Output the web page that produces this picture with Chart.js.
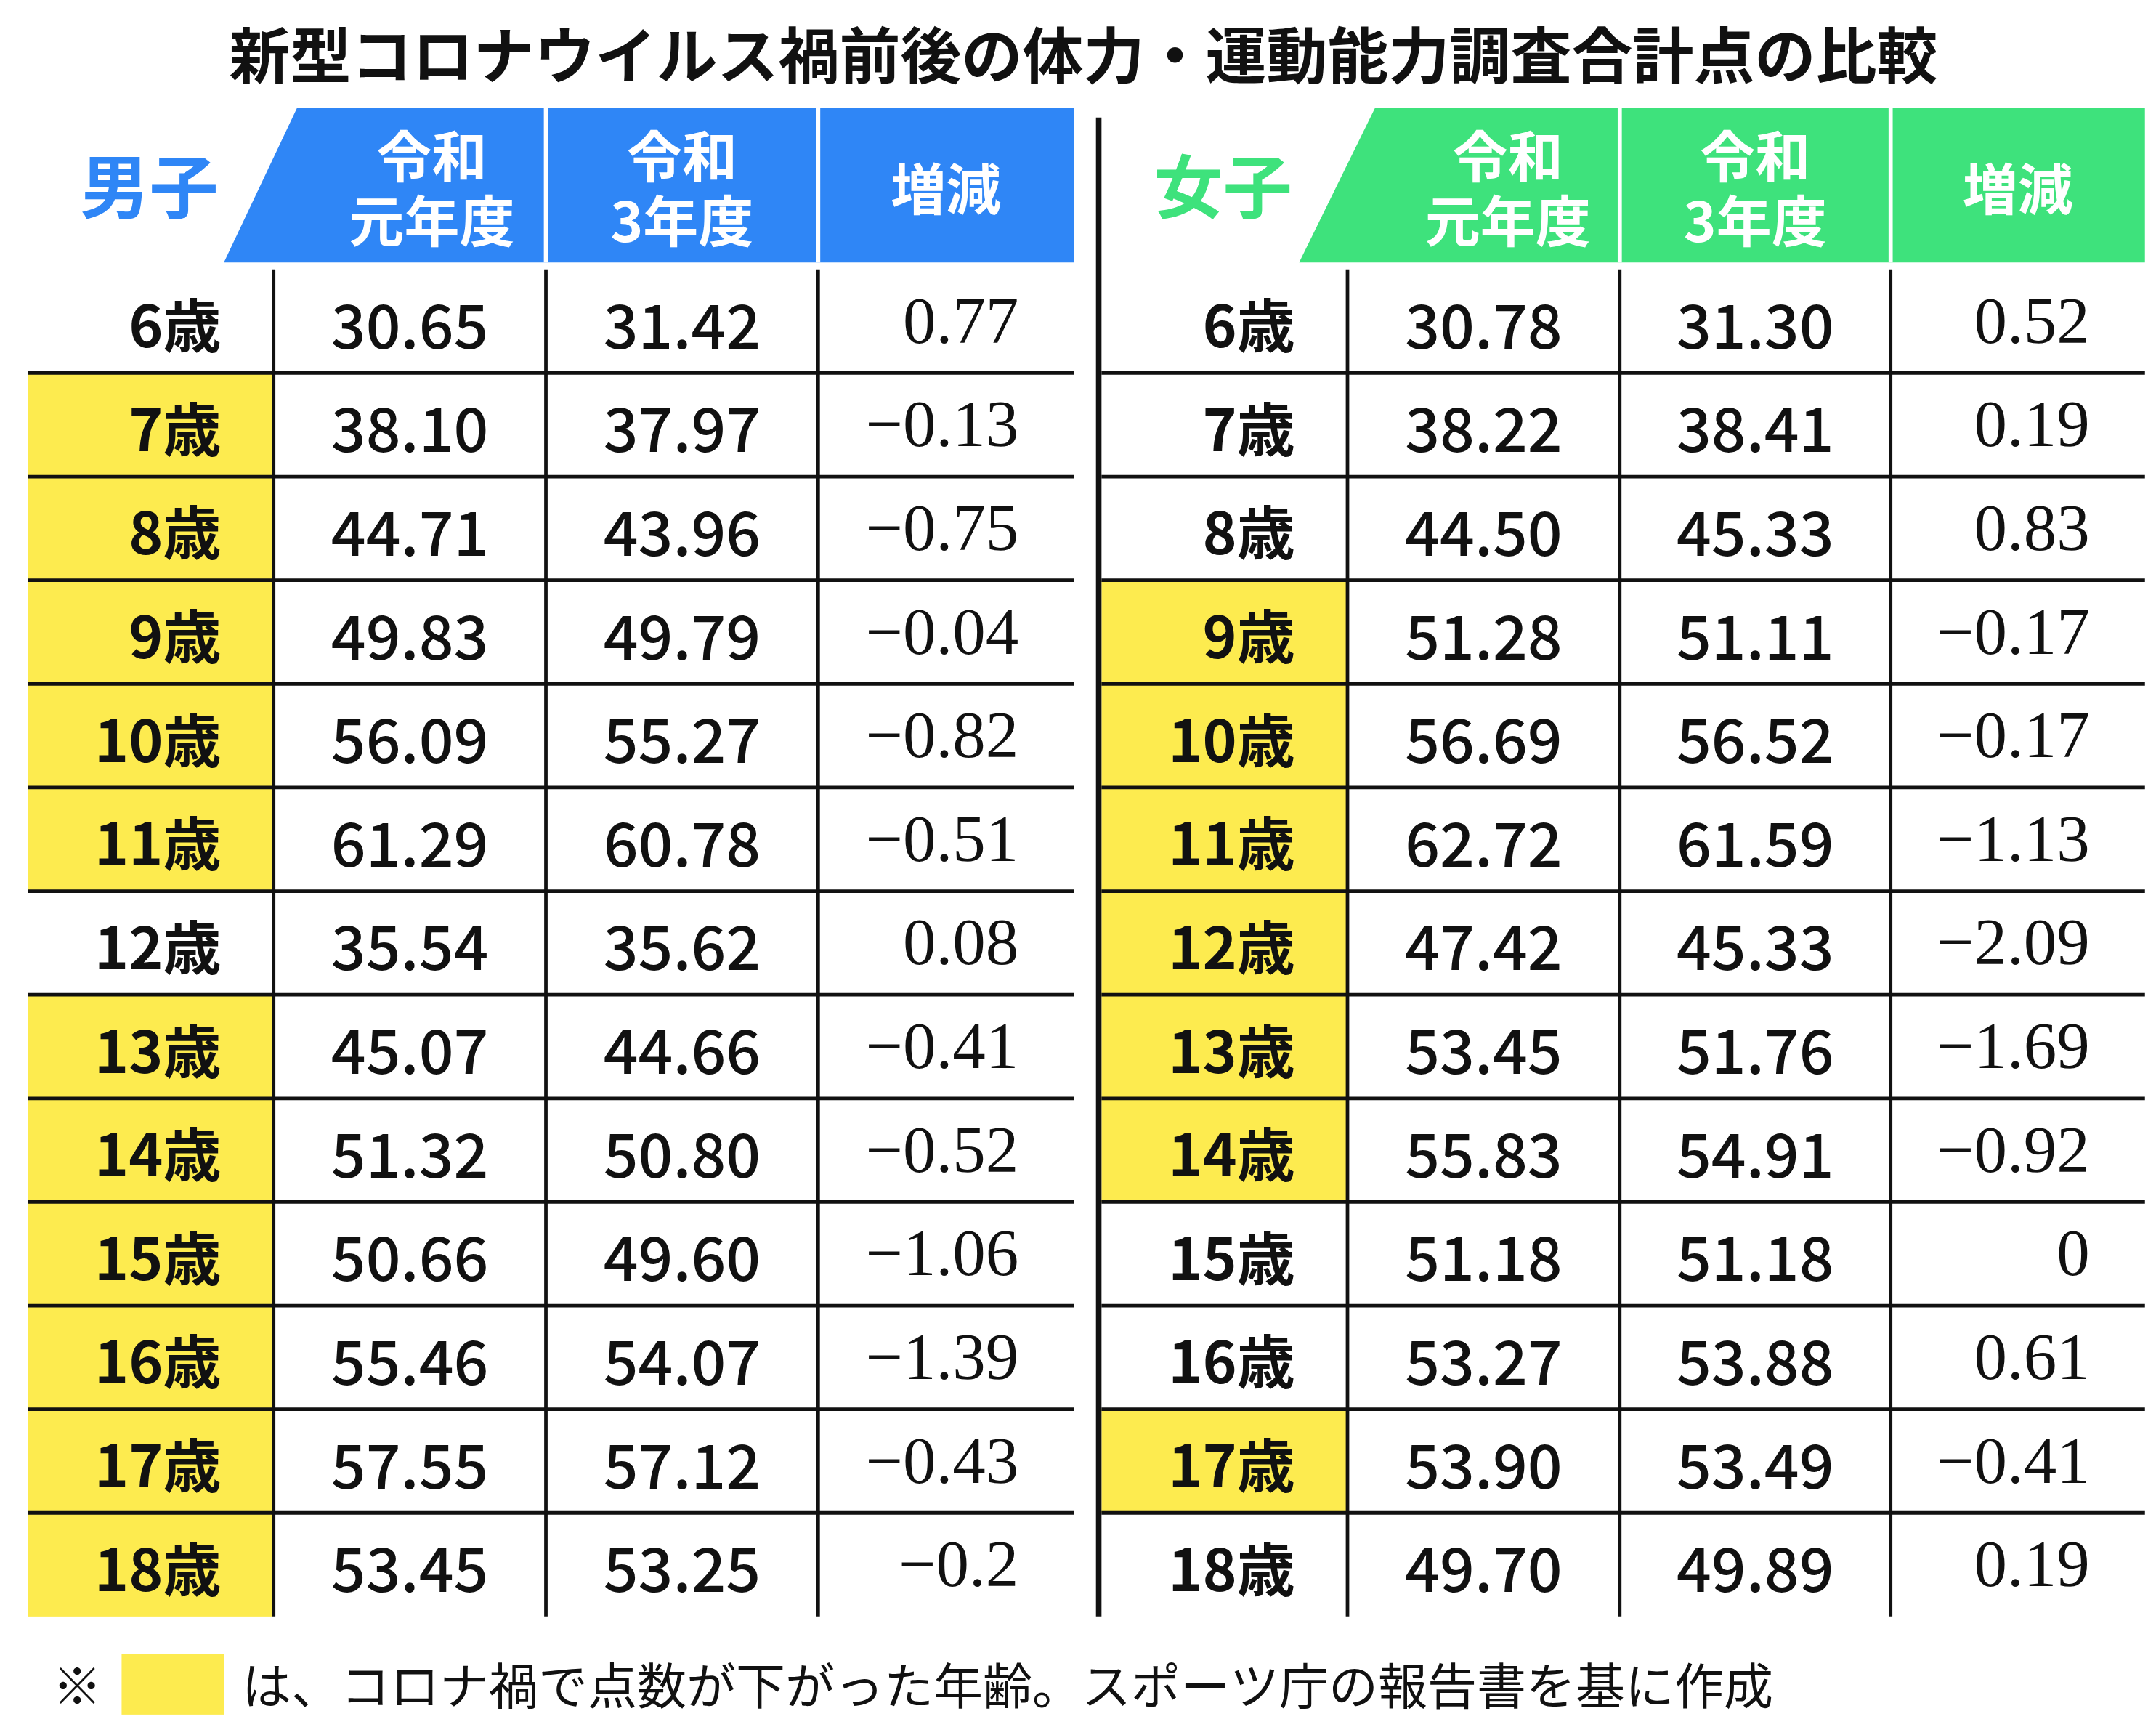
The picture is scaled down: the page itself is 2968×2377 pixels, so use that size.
<!DOCTYPE html>
<html>
<head>
<meta charset="utf-8">
<script src="https://cdn.jsdelivr.net/npm/chart.js@4"></script>
<style>
  html, body { margin: 0; padding: 0; background: #fff; }
  #wrap { width: 2968px; height: 2377px; }
</style>
</head>
<body>
<div id="wrap"><canvas id="tbl"></canvas></div>
<script>
// table values
const ages = ['6歳','7歳','8歳','9歳','10歳','11歳','12歳','13歳','14歳','15歳','16歳','17歳','18歳'];
const maleR1 = ['30.65','38.10','44.71','49.83','56.09','61.29','35.54','45.07','51.32','50.66','55.46','57.55','53.45'];
const maleR3 = ['31.42','37.97','43.96','49.79','55.27','60.78','35.62','44.66','50.80','49.60','54.07','57.12','53.25'];
const maleDiff = ['0.77','-0.13','-0.75','-0.04','-0.82','-0.51','0.08','-0.41','-0.52','-1.06','-1.39','-0.43','-0.2'];
const femaleR1 = ['30.78','38.22','44.50','51.28','56.69','62.72','47.42','53.45','55.83','51.18','53.27','53.90','49.70'];
const femaleR3 = ['31.30','38.41','45.33','51.11','56.52','61.59','45.33','51.76','54.91','51.18','53.88','53.49','49.89'];
const femaleDiff = ['0.52','0.19','0.83','-0.17','-0.17','-1.13','-2.09','-1.69','-0.92','0','0.61','-0.41','0.19'];
const headers = [['令和','元年度'], ['令和','3年度'], ['増減']];

const title = '新型コロナウイルス禍前後の体力・運動能力調査合計点の比較';
const note = 'は、コロナ禍で点数が下がった年齢。スポーツ庁の報告書を基に作成';

const BLUE = '#2f86f6', GREEN = '#3ee27c', YELLOW = '#fdeb4f';
const SANS = '"Noto Sans CJK JP", "Noto Sans", sans-serif';
const SERIF = '"Liberation Serif", "DejaVu Serif", serif';

// layout in reference units (1560 x 1250)
const ROW0 = 195, ROWH = 75;
const sides = [
  { label: '男子', color: BLUE, x0: 20, cols: [198, 395, 592, 777], bandL: 162, bandT: 215,
    r1: maleR1, r3: maleR3, diff: maleDiff },
  { label: '女子', color: GREEN, x0: 797, cols: [975, 1172, 1368, 1552], bandL: 940, bandT: 995,
    r1: femaleR1, r3: femaleR3, diff: femaleDiff }
];

const tablePlugin = {
  id: 'tablePlugin',
  afterDraw(chart) {
    const ctx = chart.ctx, xs = chart.scales.x, ys = chart.scales.y;
    const X = v => xs.getPixelForValue(v), Y = v => ys.getPixelForValue(v);
    const k = (X(1560) - X(0)) / 1560;
    const font = (w, s, f) => w + ' ' + Math.round(s * k) + 'px ' + f;
    ctx.save();

    ctx.fillStyle = '#111';
    ctx.textAlign = 'center'; ctx.textBaseline = 'middle';
    ctx.font = font('bold', 44, SANS);
    ctx.fillText(title, X(784), Y(40));

    const rowBottom = ROW0 + ROWH * ages.length;
    sides.forEach(s => {
      const c = s.cols;
      // header band
      ctx.fillStyle = s.color;
      ctx.beginPath();
      ctx.moveTo(X(s.bandT), Y(78)); ctx.lineTo(X(c[3]), Y(78));
      ctx.lineTo(X(c[3]), Y(190)); ctx.lineTo(X(s.bandL), Y(190));
      ctx.closePath(); ctx.fill();
      ctx.strokeStyle = '#fff'; ctx.lineWidth = 3 * k;
      [c[1], c[2]].forEach(v => { ctx.beginPath(); ctx.moveTo(X(v), Y(78)); ctx.lineTo(X(v), Y(190)); ctx.stroke(); });
      ctx.font = font('bold', 50, SANS);
      ctx.fillText(s.label, X(s.x0 + 88), Y(135));
      ctx.fillStyle = '#fff';
      ctx.font = font('bold', 40, SANS);
      headers.forEach((h, i) => {
        const cx = X(((i === 0 ? s.bandT + 15 : c[i]) + c[i + 1]) / 2);
        if (h.length === 2) { ctx.fillText(h[0], cx, Y(113)); ctx.fillText(h[1], cx, Y(160)); }
        else ctx.fillText(h[0], cx, Y(137));
      });

      // rows
      ages.forEach((a, i) => {
        const top = ROW0 + ROWH * i, mid = top + ROWH / 2 + 3;
        if (parseFloat(s.diff[i]) < 0) {
          ctx.fillStyle = YELLOW;
          ctx.fillRect(X(s.x0), Y(top), X(c[0] - 1) - X(s.x0), Y(top + ROWH) - Y(top));
        }
        ctx.fillStyle = '#111';
        ctx.textAlign = 'right';
        ctx.font = font('bold', 42, SANS);
        ctx.fillText(a, X(c[0] - 38), Y(mid));
        ctx.textAlign = 'center';
        ctx.font = font('500', 44, SANS);
        ctx.fillText(s.r1[i], X((c[0] + c[1]) / 2), Y(mid));
        ctx.fillText(s.r3[i], X((c[1] + c[2]) / 2), Y(mid));
        ctx.textAlign = 'right';
        ctx.font = font('', 48, SERIF);
        ctx.fillText(s.diff[i].replace('-', '\u2212'), X(c[3] - 40), Y(mid));
        ctx.textAlign = 'center';
      });

      // grid lines
      ctx.strokeStyle = '#111'; ctx.lineWidth = 2.5 * k;
      for (let i = 1; i < ages.length; i++) {
        const y = ROW0 + ROWH * i;
        ctx.beginPath(); ctx.moveTo(X(s.x0), Y(y)); ctx.lineTo(X(c[3]), Y(y)); ctx.stroke();
      }
      c.slice(0, 3).forEach(v => {
        ctx.beginPath(); ctx.moveTo(X(v), Y(ROW0)); ctx.lineTo(X(v), Y(rowBottom)); ctx.stroke();
      });
    });

    // centre divider
    ctx.lineWidth = 4 * k;
    ctx.beginPath(); ctx.moveTo(X(795), Y(85)); ctx.lineTo(X(795), Y(rowBottom)); ctx.stroke();

    // footnote
    ctx.fillStyle = '#111'; ctx.textAlign = 'left';
    ctx.font = font('', 36, SANS);
    ctx.fillText('※', X(38), Y(1220));
    ctx.fillStyle = YELLOW;
    ctx.fillRect(X(88), Y(1197), X(162) - X(88), Y(1241) - Y(1197));
    ctx.fillStyle = '#111';
    ctx.fillText(note, X(175), Y(1220));
    ctx.restore();
  }
};

new Chart(document.getElementById('tbl'), {
  type: 'scatter',
  data: { datasets: [{ data: [] }] },
  options: {
    responsive: true,
    maintainAspectRatio: false,
    animation: false,
    layout: { padding: 0 },
    plugins: { legend: { display: false }, tooltip: { enabled: false } },
    scales: {
      x: { type: 'linear', min: 0, max: 1560, display: false },
      y: { type: 'linear', min: 0, max: 1250, reverse: true, display: false }
    }
  },
  plugins: [tablePlugin]
});
</script>
</body>
</html>
